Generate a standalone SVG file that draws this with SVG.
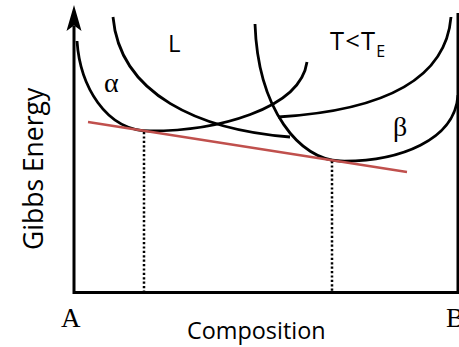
<svg xmlns="http://www.w3.org/2000/svg" width="459" height="347" viewBox="0 0 459 347">
<style>
.curve{fill:none;stroke:#000;stroke-width:2.8;stroke-linecap:butt}
.axis{fill:none;stroke:#000;stroke-width:3}
.dot{fill:none;stroke:#000;stroke-width:2.5;stroke-dasharray:2.2,2.2}
.tan{fill:none;stroke:#c0504d;stroke-width:2.4}
.sans{font-family:"Open Sans","Liberation Sans",sans-serif;fill:#000}
.serif{font-family:"Liberation Serif","Times New Roman",serif;fill:#000}
</style>
<g id="axes">
<path class="axis" d="M74,26 V292.5 H459"/>
<path class="axis" d="M458,13 V292.5"/>
<path d="M74,5 L81.5,31 L74,25.5 L66.5,31 Z" fill="#000"/>
</g>
<g id="connectors">
<path class="dot" d="M144,132 V291"/>
<path class="dot" d="M332,161 V291"/>
</g>
<g id="alpha-curve"><path class="curve" d="M77,41 C80,85 105,131 150,131 C215,131 300,110 307,62"/></g>
<g id="liquid-curve">
<path class="curve" d="M113,17 C120,95 200,130 290,137"/>
<path class="curve" d="M278,117 C360,112 445,90 451,17"/>
</g>
<g id="beta-curve"><path class="curve" d="M255,24 C258,110 300,160 340,161 C400,162 455,140 458,95"/></g>
<g id="tangent"><path class="tan" d="M88,122 L407,172"/></g>
<g id="labels">
<text class="serif" x="104" y="92" font-size="28">α</text>
<text class="serif" x="393" y="136" font-size="28">β</text>
<text class="sans" x="168" y="52" font-size="24">L</text>
<text class="sans" x="330" y="50" font-size="25.5" letter-spacing="1.2">T&lt;T<tspan font-size="16" dy="7" letter-spacing="0">E</tspan></text>
<text class="serif" x="61" y="327" font-size="27">A</text>
<text class="serif" x="446" y="327" font-size="27">B</text>
<text class="sans" x="187" y="339" font-size="23.4">Composition</text>
<text class="sans" font-size="26.5" transform="translate(43,250) rotate(-90)">Gibbs Energy</text>
</g>
</svg>
